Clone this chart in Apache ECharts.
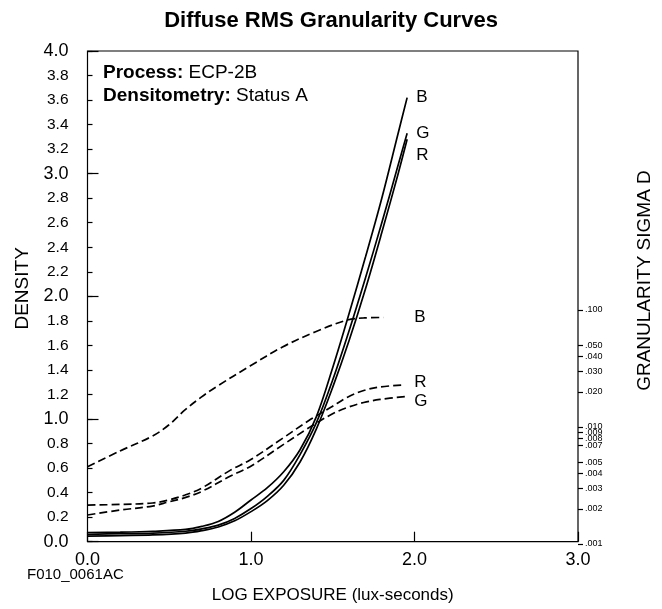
<!DOCTYPE html>
<html>
<head>
<meta charset="utf-8">
<title>Diffuse RMS Granularity Curves</title>
<script src="https://cdn.jsdelivr.net/npm/echarts@6/dist/echarts.min.js"></script>
<style>
  html, body { margin: 0; padding: 0; background: #fff; }
  #chart { width: 662px; height: 609px; }
</style>
</head>
<body>
<div id="chart"></div>
<script>
// density curves (left axis)
const densityX = [0, 0.2, 0.4, 0.6, 0.7, 0.8, 0.9, 1.0, 1.1, 1.2, 1.3, 1.4, 1.5, 1.6, 1.7, 1.8, 1.9, 1.955];
const densityB = [0.075, 0.078, 0.085, 0.10, 0.125, 0.165, 0.24, 0.34, 0.44, 0.57, 0.75, 1.02, 1.42, 1.86, 2.32, 2.80, 3.33, 3.62];
const densityG = [0.06, 0.065, 0.07, 0.085, 0.105, 0.135, 0.19, 0.27, 0.37, 0.50, 0.71, 0.97, 1.32, 1.72, 2.15, 2.60, 3.07, 3.33];
const densityR = [0.045, 0.05, 0.055, 0.07, 0.09, 0.12, 0.17, 0.245, 0.335, 0.46, 0.65, 0.92, 1.26, 1.64, 2.06, 2.52, 3.00, 3.28];

// granularity curves (right axis, sigma D)
const granBX = [0, 0.2, 0.4, 0.5, 0.6, 0.7, 0.8, 1.0, 1.2, 1.4, 1.6, 1.7, 1.82];
const granB = [0.00458, 0.00624, 0.00837, 0.0104, 0.0140, 0.0180, 0.0224, 0.0332, 0.0483, 0.0649, 0.0822, 0.0855, 0.0863];
const granRGX = [0, 0.2, 0.4, 0.5, 0.6, 0.7, 0.88, 1.0, 1.2, 1.36, 1.5, 1.6, 1.7, 1.8, 1.955];
const granR = [0.00215, 0.00218, 0.00224, 0.00238, 0.00262, 0.00299, 0.00428, 0.00522, 0.0080, 0.0113, 0.0148, 0.0180, 0.0205, 0.0220, 0.0229];
const granG = [0.00177, 0.00195, 0.00211, 0.00229, 0.00249, 0.00280, 0.00381, 0.00458, 0.0070, 0.0098, 0.0128, 0.0147, 0.0162, 0.0172, 0.0182];

const granTicks = ['.100', '.050', '.040', '.030', '.020', '.010', '.009', '.008', '.007', '.005', '.004', '.003', '.002', '.001'];

const FONT = 'Liberation Sans, Arial, Helvetica, sans-serif';

const chart = echarts.init(document.getElementById('chart'));

const pairs = (xs, ys) => xs.map((x, i) => [x, ys[i]]);
const logPairs = (xs, ys) => xs.map((x, i) => [x, Math.log10(ys[i])]);
const granPos = granTicks.map((s) => Math.log10(parseFloat(s)));

const solid = (name, data, offset) => ({
  name: name,
  type: 'line',
  xAxisIndex: 0,
  yAxisIndex: 0,
  data: data,
  smooth: 0.35,
  showSymbol: false,
  lineStyle: { color: '#000', width: 1.7 },
  endLabel: { show: true, formatter: name, color: '#000', fontSize: 17, fontFamily: FONT, offset: offset },
});

const dashed = (name, data, offset) => ({
  name: name,
  type: 'line',
  xAxisIndex: 1,
  yAxisIndex: 2,
  data: data,
  smooth: 0.35,
  showSymbol: false,
  lineStyle: { color: '#000', width: 1.7, type: [8, 4] },
  endLabel: { show: true, formatter: name, color: '#000', fontSize: 17, fontFamily: FONT, offset: offset },
});

const option = {
  animation: false,
  backgroundColor: '#fff',
  textStyle: { fontFamily: FONT, color: '#000' },
  title: {
    text: 'Diffuse RMS Granularity Curves',
    left: 'center',
    top: 5,
    textStyle: { fontSize: 22, fontWeight: 'bold', color: '#000', fontFamily: FONT },
  },
  graphic: [
    {
      type: 'text',
      left: 103,
      top: 61,
      style: {
        text: '{b|Process:} ECP-2B\n{b|Densitometry:} Status A',
        fontSize: 19,
        lineHeight: 23,
        fill: '#000',
        fontFamily: FONT,
        rich: { b: { fontWeight: 'bold', fontSize: 19, fontFamily: FONT } },
      },
    },
    {
      type: 'text',
      left: 27,
      top: 567,
      style: { text: 'F010_0061AC', fontSize: 15, fill: '#000', fontFamily: FONT },
    },
  ],
  grid: [
    { left: 87.5, right: 84, top: 51, bottom: 67.3, show: true, borderColor: '#000', borderWidth: 1.2 },
    { left: 87.5, right: 84, top: 51, bottom: 65 },
  ],
  xAxis: [
    {
      type: 'value',
      gridIndex: 0,
      min: 0,
      max: 3,
      interval: 1,
      name: 'LOG EXPOSURE (lux-seconds)',
      nameLocation: 'middle',
      nameGap: 45,
      nameTextStyle: { fontSize: 17, color: '#000' },
      axisLine: { show: false },
      axisTick: { inside: true, length: 10, lineStyle: { color: '#000', width: 1.2 } },
      axisLabel: { formatter: (v) => v.toFixed(1), fontSize: 18, color: '#000', margin: 9 },
      splitLine: { show: false },
    },
    { type: 'value', gridIndex: 1, min: 0, max: 3, show: false },
  ],
  yAxis: [
    {
      type: 'value',
      gridIndex: 0,
      min: 0,
      max: 4,
      interval: 0.2,
      name: 'DENSITY',
      nameLocation: 'middle',
      nameGap: 50,
      nameTextStyle: { fontSize: 19, color: '#000', padding: [0, 0, 0, 16] },
      axisLine: { show: false },
      axisTick: { inside: true, length: 5, lineStyle: { color: '#000', width: 1.2 } },
      axisLabel: {
        margin: 19,
        color: '#000',
        formatter: (v) => {
          const s = v.toFixed(1);
          return Math.abs(v - Math.round(v)) < 1e-6 ? '{maj|' + s + '}' : '{mn|' + s + '}';
        },
        rich: { maj: { fontSize: 18, color: '#000' }, mn: { fontSize: 15.5, color: '#000' } },
      },
      splitLine: { show: false },
    },
    {
      type: 'value',
      gridIndex: 0,
      position: 'left',
      min: 0,
      max: 4,
      interval: 1,
      axisLine: { show: false },
      axisTick: { inside: true, length: 11, lineStyle: { color: '#000', width: 1.2 } },
      axisLabel: { show: false },
      splitLine: { show: false },
    },
    {
      type: 'value',
      gridIndex: 1,
      position: 'right',
      offset: 3,
      min: -3,
      max: 1.2137,
      name: 'GRANULARITY SIGMA D',
      nameLocation: 'middle',
      nameRotate: 90,
      nameGap: 57,
      nameTextStyle: { fontSize: 19, color: '#000', padding: [0, 0, 0, 34] },
      axisLine: { show: true, onZero: false, lineStyle: { color: 'rgba(0,0,0,0)' } },
      axisTick: { show: true, inside: false, length: 5, customValues: granPos, lineStyle: { color: '#000', width: 1.2 } },
      axisLabel: {
        show: true,
        customValues: granPos,
        margin: 7,
        fontSize: 9,
        color: '#000',
        formatter: (v) => {
          const i = granPos.findIndex((p) => Math.abs(p - v) < 1e-6);
          return i >= 0 ? granTicks[i] : '';
        },
      },
      splitLine: { show: false },
    },
  ],
  series: [
    solid('B', pairs(densityX, densityB), [1, 0]),
    solid('G', pairs(densityX, densityG), [1, 0]),
    solid('R', pairs(densityX, densityR), [1, 16]),
    dashed('B', logPairs(granBX, granB), [23, 0]),
    dashed('R', logPairs(granRGX, granR), [1, -3]),
    dashed('G', logPairs(granRGX, granG), [1, 5]),
  ],
};

chart.setOption(option);
</script>
</body>
</html>
